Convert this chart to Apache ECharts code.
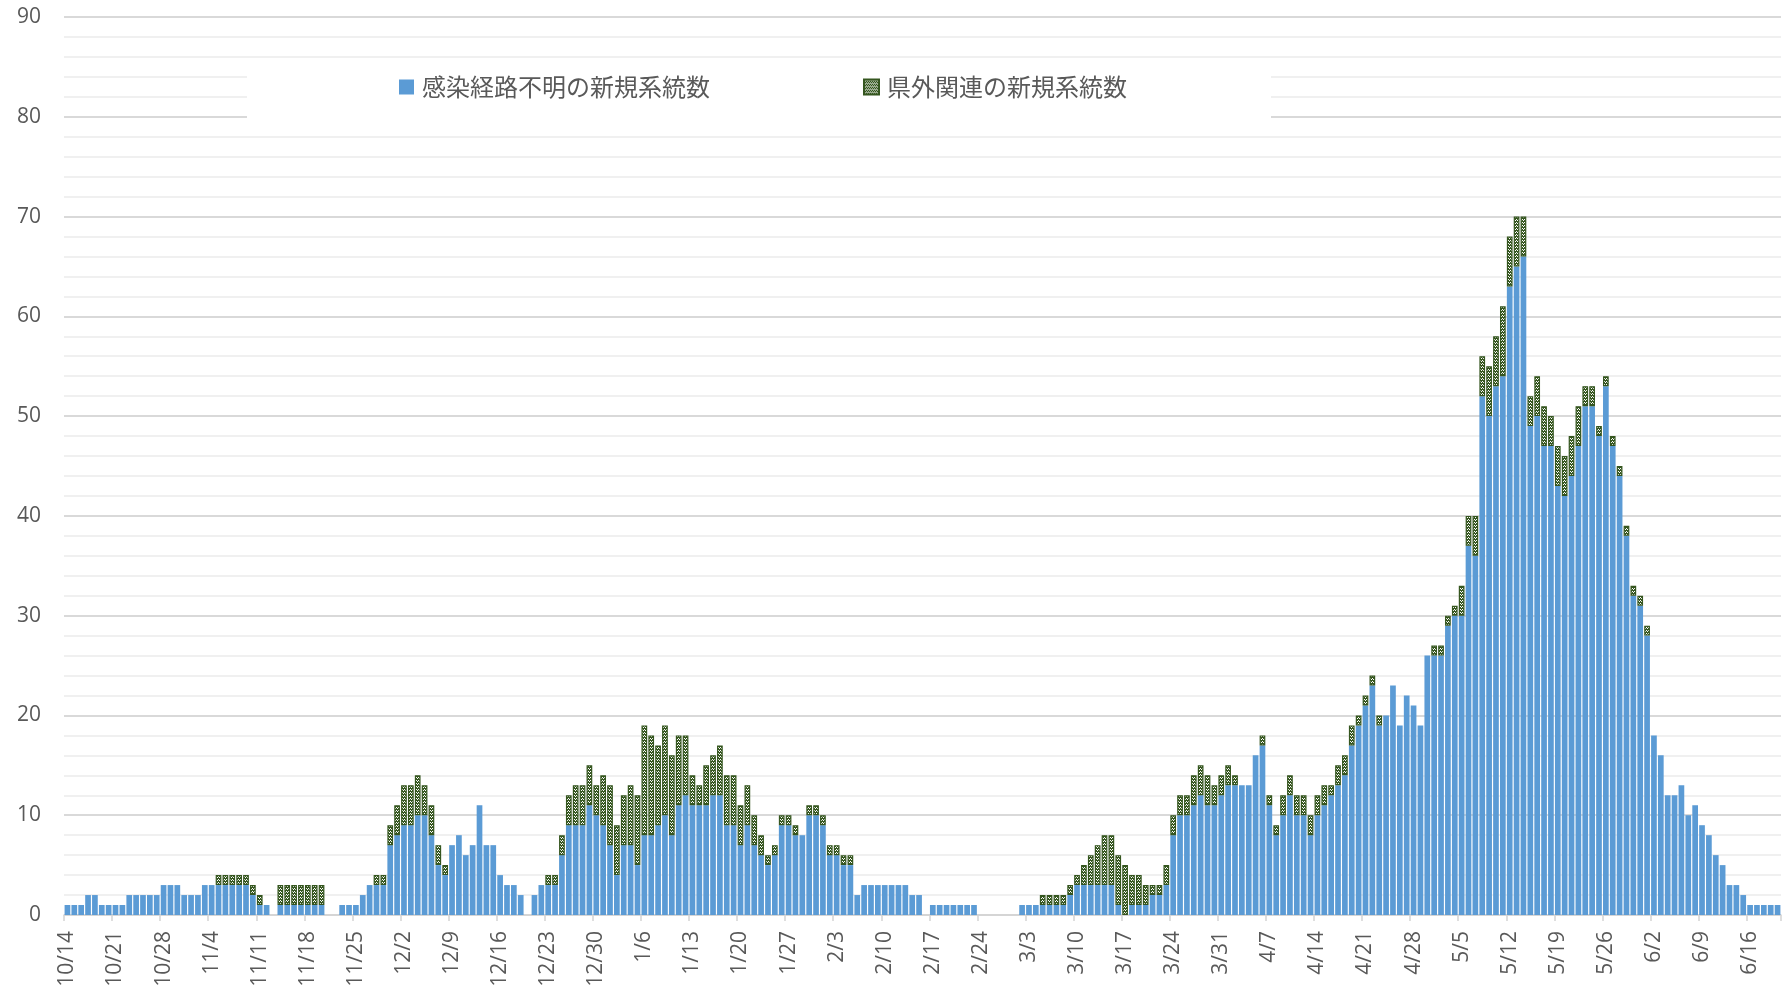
<!DOCTYPE html>
<html>
<head>
<meta charset="utf-8">
<script src="https://cdn.jsdelivr.net/npm/echarts@6/dist/echarts.min.js"></script>
<style>
html,body{margin:0;padding:0;background:#fff;}
#chart{width:1784px;height:989px;}
</style>
</head>
<body>
<div id="chart"></div>
<script>
// ---- Data ----
const categories = [
'10/14','10/15','10/16','10/17','10/18','10/19','10/20','10/21','10/22','10/23','10/24','10/25','10/26','10/27','10/28','10/29','10/30','10/31',
'11/1','11/2','11/3','11/4','11/5','11/6','11/7','11/8','11/9','11/10','11/11','11/12','11/13','11/14','11/15','11/16','11/17','11/18','11/19','11/20','11/21','11/22','11/23','11/24','11/25','11/26','11/27','11/28','11/29','11/30',
'12/1','12/2','12/3','12/4','12/5','12/6','12/7','12/8','12/9','12/10','12/11','12/12','12/13','12/14','12/15','12/16','12/17','12/18','12/19','12/20','12/21','12/22','12/23','12/24','12/25','12/26','12/27','12/28','12/29','12/30','12/31',
'1/1','1/2','1/3','1/4','1/5','1/6','1/7','1/8','1/9','1/10','1/11','1/12','1/13','1/14','1/15','1/16','1/17','1/18','1/19','1/20','1/21','1/22','1/23','1/24','1/25','1/26','1/27','1/28','1/29','1/30','1/31',
'2/1','2/2','2/3','2/4','2/5','2/6','2/7','2/8','2/9','2/10','2/11','2/12','2/13','2/14','2/15','2/16','2/17','2/18','2/19','2/20','2/21','2/22','2/23','2/24','2/25','2/26','2/27','2/28',
'3/1','3/2','3/3','3/4','3/5','3/6','3/7','3/8','3/9','3/10','3/11','3/12','3/13','3/14','3/15','3/16','3/17','3/18','3/19','3/20','3/21','3/22','3/23','3/24','3/25','3/26','3/27','3/28','3/29','3/30','3/31',
'4/1','4/2','4/3','4/4','4/5','4/6','4/7','4/8','4/9','4/10','4/11','4/12','4/13','4/14','4/15','4/16','4/17','4/18','4/19','4/20','4/21','4/22','4/23','4/24','4/25','4/26','4/27','4/28','4/29','4/30',
'5/1','5/2','5/3','5/4','5/5','5/6','5/7','5/8','5/9','5/10','5/11','5/12','5/13','5/14','5/15','5/16','5/17','5/18','5/19','5/20','5/21','5/22','5/23','5/24','5/25','5/26','5/27','5/28','5/29','5/30','5/31',
'6/1','6/2','6/3','6/4','6/5','6/6','6/7','6/8','6/9','6/10','6/11','6/12','6/13','6/14','6/15','6/16','6/17','6/18','6/19','6/20'
];

const seriesNames = ['感染経路不明の新規系統数', '県外関連の新規系統数'];

// 感染経路不明 (blue)
const unknownRoute = [
1,1,1,2,2,1,1,
1,1,2,2,2,2,2,
3,3,3,2,2,2,3,
3,3,3,3,3,3,2,
1,1,0,1,1,1,1,
1,1,1,0,0,1,1,
1,2,3,3,3,7,8,
9,9,10,10,8,5,4,
7,8,6,7,11,7,7,
4,3,3,2,0,2,3,
3,3,6,9,9,9,11,
10,9,7,4,7,7,5,
8,8,9,10,8,11,12,
11,11,11,12,12,9,9,
7,9,7,6,5,6,9,
9,8,8,10,10,9,6,
6,5,5,2,3,3,3,
3,3,3,3,2,2,0,
1,1,1,1,1,1,1,
0,0,0,0,0,0,1,
1,1,1,1,1,1,2,
3,3,3,3,3,3,1,
0,1,1,1,2,2,3,
8,10,10,11,12,11,11,
12,13,13,13,13,16,17,
11,8,10,12,10,10,8,
10,11,12,13,14,17,19,
21,23,19,20,23,19,22,
21,19,26,26,26,29,30,
30,37,36,52,50,53,54,
63,65,66,49,50,47,47,
43,42,44,47,51,51,48,
53,47,44,38,32,31,28,
18,16,12,12,13,10,11,
9,8,6,5,3,3,2,
1,1,1,1,1
];

// 県外関連 (green pattern)
const outOfPref = [
0,0,0,0,0,0,0,
0,0,0,0,0,0,0,
0,0,0,0,0,0,0,
0,1,1,1,1,1,1,
1,0,0,2,2,2,2,
2,2,2,0,0,0,0,
0,0,0,1,1,2,3,
4,4,4,3,3,2,1,
0,0,0,0,0,0,0,
0,0,0,0,0,0,0,
1,1,2,3,4,4,4,
3,5,6,5,5,6,7,
11,10,8,9,8,7,6,
3,2,4,4,5,5,5,
4,4,3,2,1,1,1,
1,1,0,1,1,1,1,
1,1,1,0,0,0,0,
0,0,0,0,0,0,0,
0,0,0,0,0,0,0,
0,0,0,0,0,0,0,
0,0,1,1,1,1,1,
1,2,3,4,5,5,5,
5,3,3,2,1,1,2,
2,2,2,3,3,3,2,
2,2,1,0,0,0,1,
1,1,2,2,2,2,2,
2,2,1,2,2,2,1,
1,1,1,0,0,0,0,
0,0,0,1,1,1,1,
3,3,4,4,5,5,7,
5,5,4,3,4,4,3,
4,4,4,4,2,2,1,
1,1,1,1,1,1,1,
0,0,0,0,0,0,0,
0,0,0,0,0,0,0,
0,0,0,0,0
];

// ---- Pattern for green series ----
function makePattern() {
  const c = document.createElement('canvas');
  c.width = 2; c.height = 3;
  const g = c.getContext('2d');
  g.fillStyle = '#35561f';
  g.fillRect(0, 0, 2, 3);
  g.fillStyle = '#ffffff';
  g.fillRect(0, 0, 1, 1);
  g.fillRect(1, 1, 1, 1);
  return c;
}
const pattern = makePattern();

const textColor = '#595959';
const chart = echarts.init(document.getElementById('chart'), null, {renderer: 'canvas'});

const option = {
  animation: false,
  backgroundColor: '#ffffff',
  grid: {
    left: 64, right: 3, top: 17, bottom: 74,
    containLabel: false,
    outerBoundsMode: 'none'
  },
  graphic: [{
    type: 'rect',
    z: 50,
    shape: {x: 247, y: 58, width: 1024, height: 77},
    style: {fill: '#ffffff'}
  }],
  legend: {
    z: 100,
    left: 399,
    top: 75,
    padding: 0,
    itemWidth: 15,
    itemHeight: 15,
    itemGap: 153,
    icon: 'rect',
    textStyle: {
      color: textColor,
      fontSize: 24,
      fontFamily: '"Noto Sans CJK JP", "Noto Sans", sans-serif',
      padding: [0, 0, 6, 3]
    },
    data: seriesNames
  },
  xAxis: {
    type: 'category',
    data: categories,
    boundaryGap: true,
    axisLine: {show: true, lineStyle: {color: '#d4d4d4', width: 1.5}},
    axisTick: {show: true, interval: 6, length: 6, lineStyle: {color: '#d4d4d4', width: 1.5}},
    axisLabel: {
      interval: 6,
      rotate: 90,
      margin: 16,
      color: textColor,
      fontSize: 21,
      fontFamily: '"Open Sans", "Noto Sans", sans-serif'
    },
    splitLine: {show: false}
  },
  yAxis: {
    type: 'value',
    min: 0,
    max: 90,
    interval: 10,
    axisLine: {show: false},
    axisTick: {show: false},
    axisLabel: {
      margin: 23,
      color: textColor,
      fontSize: 21,
      fontFamily: '"Open Sans", "Noto Sans", sans-serif'
    },
    splitLine: {show: true, lineStyle: {color: '#d9d9d9', width: 2}},
    minorTick: {show: false, splitNumber: 5},
    minorSplitLine: {show: true, lineStyle: {color: '#f0f0f0', width: 2}}
  },
  series: [
    {
      name: seriesNames[0],
      type: 'bar',
      stack: 'total',
      barCategoryGap: '17%',
      itemStyle: {color: '#5b9bd5'},
      data: unknownRoute
    },
    {
      name: seriesNames[1],
      type: 'bar',
      stack: 'total',
      barCategoryGap: '17%',
      itemStyle: {
        color: {image: pattern, repeat: 'repeat'},
        borderColor: '#35561f',
        borderWidth: 1.2
      },
      data: outOfPref.map(v => (v === 0 ? '-' : v))
    }
  ]
};
chart.setOption(option);
</script>
</body>
</html>
